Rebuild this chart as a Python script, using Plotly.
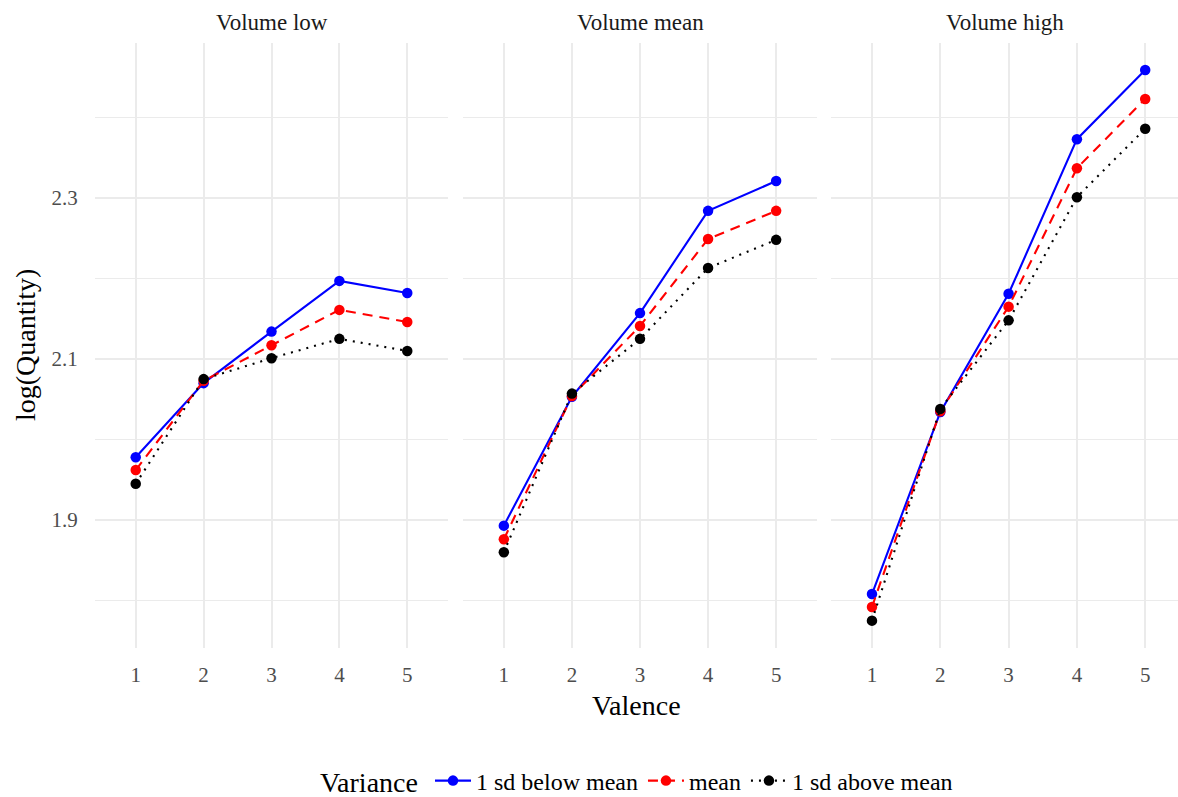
import plotly.graph_objects as go

valence = [1, 2, 3, 4, 5]
panels = ["Volume low", "Volume mean", "Volume high"]
series_names = ["1 sd below mean", "mean", "1 sd above mean"]

# log(Quantity) values per panel
low_below = [1.978, 2.070, 2.134, 2.197, 2.182]
low_mean = [1.962, 2.073, 2.117, 2.161, 2.146]
low_above = [1.945, 2.075, 2.101, 2.125, 2.110]

mean_below = [1.893, 2.053, 2.157, 2.284, 2.321]
mean_mean = [1.876, 2.054, 2.141, 2.249, 2.284]
mean_above = [1.860, 2.057, 2.125, 2.213, 2.248]

high_below = [1.808, 2.034, 2.181, 2.373, 2.459]
high_mean = [1.792, 2.035, 2.165, 2.337, 2.423]
high_above = [1.775, 2.038, 2.148, 2.301, 2.386]

data = [
    [low_below, low_mean, low_above],
    [mean_below, mean_mean, mean_above],
    [high_below, high_mean, high_above],
]

colors = ["#0000FF", "#FF0000", "#000000"]
dashes = ["solid", "10px,7px", "2px,6px"]

W, H = 1178, 797
FONT = "Liberation Serif"

# panel pixel extents
px_left = [95, 463, 831]
px_right = [448, 817, 1178]
xranges = [[0.4, 5.6], [0.4, 5.6], [0.4, 5.48]]
top_px, bot_px = 43, 648

fig = go.Figure()
for p in range(3):
    xa = "x" if p == 0 else f"x{p+1}"
    ya = "y" if p == 0 else f"y{p+1}"
    for s in range(3):
        fig.add_trace(go.Scatter(
            x=valence, y=data[p][s], mode="lines+markers",
            name=series_names[s], legendgroup=series_names[s],
            showlegend=(p == 0),
            line=dict(color=colors[s], width=2.1, dash=dashes[s]),
            marker=dict(color=colors[s], size=10.5),
            xaxis=xa, yaxis=ya,
        ))

grid = "#EBEBEB"
layout = dict(
    width=W, height=H,
    margin=dict(l=0, r=0, t=0, b=0, autoexpand=False),
    paper_bgcolor="white", plot_bgcolor="white",
    font=dict(family=FONT, color="#4D4D4D", size=21),
    legend=dict(
        orientation="h", x=430 / W, xanchor="left", y=(H - 781) / H, yanchor="middle",
        font=dict(size=24, color="black", family=FONT),
        itemwidth=36, tracegroupgap=0,
    ),
)

ydom = [1 - bot_px / H, 1 - top_px / H]
for p in range(3):
    xkey = "xaxis" if p == 0 else f"xaxis{p+1}"
    ykey = "yaxis" if p == 0 else f"yaxis{p+1}"
    layout[xkey] = dict(
        domain=[px_left[p] / W, px_right[p] / W], range=xranges[p],
        anchor="y" if p == 0 else f"y{p+1}",
        tickvals=valence, ticktext=[str(v) for v in valence],
        showgrid=True, gridcolor=grid, gridwidth=1.8, zeroline=False,
        showline=False, ticks="outside", ticklen=8, tickcolor="rgba(0,0,0,0)",
        tickfont=dict(size=21, color="#4D4D4D", family=FONT),
    )
    layout[ykey] = dict(
        domain=ydom, range=[1.741, 2.4925],
        anchor="x" if p == 0 else f"x{p+1}",
        tickvals=[1.9, 2.1, 2.3], ticktext=["1.9", "2.1", "2.3"],
        showticklabels=(p == 0),
        showgrid=True, gridcolor=grid, gridwidth=1.8, zeroline=False,
        showline=False, ticks="outside", ticklen=12, tickcolor="rgba(0,0,0,0)",
        tickfont=dict(size=21, color="#4D4D4D", family=FONT),
        minor=dict(tickvals=[1.8, 2.0, 2.2, 2.4], showgrid=True, gridcolor=grid, gridwidth=1),
    )
    if p > 0:
        layout[ykey]["matches"] = "y"

fig.update_layout(**layout)

annotations = []
for p in range(3):
    annotations.append(dict(
        text=panels[p], x=(px_left[p] + px_right[p]) / 2 / W, y=1 - 22 / H,
        xref="paper", yref="paper", showarrow=False, xanchor="center", yanchor="middle",
        font=dict(size=23, color="#1A1A1A", family=FONT),
    ))
annotations.append(dict(
    text="Valence", x=(95 + 1178) / 2 / W, y=1 - 705 / H, xref="paper", yref="paper",
    showarrow=False, xanchor="center", yanchor="middle",
    font=dict(size=28, color="black", family=FONT),
))
annotations.append(dict(
    text="log(Quantity)", x=25 / W, y=1 - 345 / H, xref="paper", yref="paper",
    showarrow=False, xanchor="center", yanchor="middle", textangle=-90,
    font=dict(size=28, color="black", family=FONT),
))
annotations.append(dict(
    text="Variance", x=318 / W, y=1 - 782 / H, xref="paper", yref="paper",
    showarrow=False, xanchor="left", yanchor="middle",
    font=dict(size=28, color="black", family=FONT),
))
fig.update_layout(annotations=annotations)

fig.write_html("out.html")
